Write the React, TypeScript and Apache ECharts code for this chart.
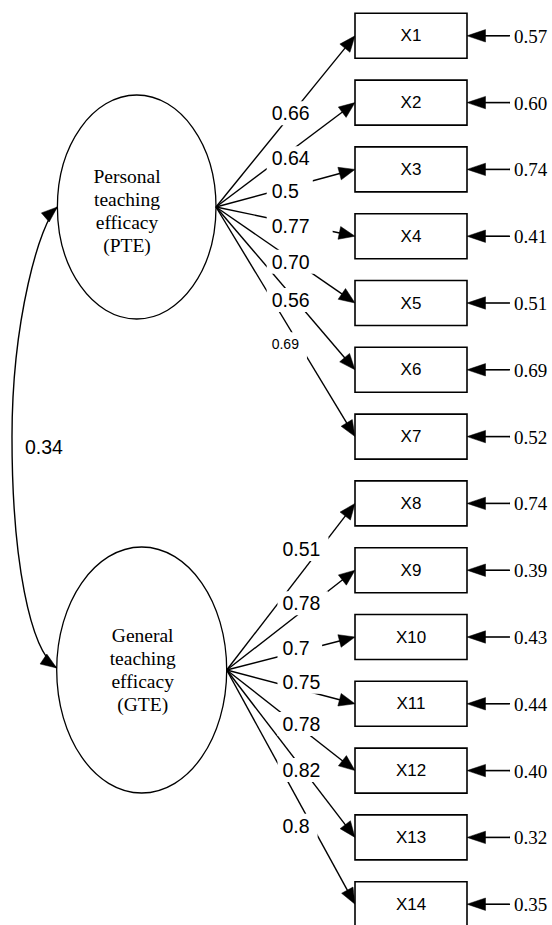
import React, { useEffect, useRef } from "react";
import * as echarts from "echarts";

// ---------------- data ----------------
const factorNames = ["Personal teaching efficacy (PTE)", "General teaching efficacy (GTE)"];
const factorLines = [
  ["Personal", "teaching", "efficacy", "(PTE)"],
  ["General", "teaching", "efficacy", "(GTE)"],
];
const indicators = ["X1", "X2", "X3", "X4", "X5", "X6", "X7", "X8", "X9", "X10", "X11", "X12", "X13", "X14"];
const indicatorFactor = [0, 0, 0, 0, 0, 0, 0, 1, 1, 1, 1, 1, 1, 1];
const loadingLabels = ["0.66", "0.64", "0.5", "0.77", "0.70", "0.56", "0.69", "0.51", "0.78", "0.7", "0.75", "0.78", "0.82", "0.8"];
const errorLabels = ["0.57", "0.60", "0.74", "0.41", "0.51", "0.69", "0.52", "0.74", "0.39", "0.43", "0.44", "0.40", "0.32", "0.35"];
const correlationLabel = "0.34";

// ---------------- layout (units of the hidden pixel axes) ----------------
const W = 552;
const H = 925;
const BOX_LEFT = 355;
const BOX_W = 112;
const BOX_H = 45;
const BOX_TOP0 = 13.3;
const ROW_STEP = 66.8;
const FACTOR_LAYOUT = [
  { cx: 136.7, cy: 207, rx: 79.3, ry: 112, tx: 127, ty: 211 },
  { cx: 141.7, cy: 670, rx: 85, ry: 123, tx: 142.7, ty: 670 },
];
const LABEL_X = [271.7, 282.5];
const LABEL_Y = [113.3, 158.3, 190.7, 225.7, 261.7, 300, 344.3, 549, 603.3, 648.3, 681.7, 724, 770, 825.7];
const LABEL_FONT = [19.5, 19.5, 19.5, 19.5, 19.5, 19.5, 14, 19.5, 19.5, 19.5, 19.5, 19.5, 19.5, 19.5];
const LABEL_PAD_RIGHT = [8, 8, 14, 23, 8, 8, 8, 8, 7.5, 12.5, 8, 8, 8, 8];
const LABEL_PAD_BOTTOM = [12, 12, 12, 12, 12, 12, 22, 12, 12, 12, 12, 12, 12, 12];
const CORR_LABEL_POS = [44, 447];
const ERR_LINE_END = 510;
const ERR_TEXT_X = 514;

const SANS = '"Liberation Sans", Arial, Helvetica, sans-serif';
const SERIF = '"Liberation Serif", "Times New Roman", Times, serif';
const INK = "#000";

const rowCenter = (i: number) => BOX_TOP0 + i * ROW_STEP + BOX_H / 2;

let measureCtx: CanvasRenderingContext2D | null = null;
function textWidth(text: string, size: number, family: string) {
  if (!measureCtx) measureCtx = document.createElement("canvas").getContext("2d");
  if (!measureCtx) return text.length * size * 0.55;
  measureCtx.font = `${size}px ${family}`;
  return measureCtx.measureText(text).width;
}

function arrowHead(tip: number[], ux: number, uy: number, len: number, half: number) {
  const bx = tip[0] - ux * len;
  const by = tip[1] - uy * len;
  return {
    type: "polygon",
    shape: { points: [[tip[0], tip[1]], [bx - uy * half, by + ux * half], [bx + uy * half, by - ux * half]] },
    style: { fill: INK, stroke: INK, lineWidth: 0.5 },
  };
}

function buildOption(): any {
  const common = { type: "custom", coordinateSystem: "cartesian2d", silent: true, clip: false };

  const factorSeries = {
    ...common,
    name: "factors",
    z: 1,
    data: factorNames.map((n, f) => ({ name: n, value: [f, f] })),
    renderItem: (params: any, api: any) => {
      const f = params.dataIndex;
      const L = FACTOR_LAYOUT[f];
      const c = api.coord([L.cx, L.cy]);
      const t = api.coord([L.tx, L.ty]);
      return {
        type: "group",
        children: [
          { type: "ellipse", shape: { cx: c[0], cy: c[1], rx: L.rx, ry: L.ry }, style: { fill: "#fff", stroke: INK, lineWidth: 1.3 } },
          {
            type: "text",
            style: {
              x: t[0], y: t[1], text: factorLines[f].join("\n"), fill: INK,
              fontSize: 19.5, fontFamily: SERIF, lineHeight: 22.8, align: "center", verticalAlign: "middle",
            },
          },
        ],
      };
    },
  };

  const corrSeries = {
    ...common,
    name: "correlation",
    z: 2,
    data: [{ name: correlationLabel, value: [0, 1] }],
    renderItem: (params: any, api: any) => {
      const A = FACTOR_LAYOUT[0];
      const B = FACTOR_LAYOUT[1];
      const p0 = api.coord([A.cx - A.rx, A.cy]);
      const p3 = api.coord([B.cx - B.rx, B.cy - 2]);
      const c1 = api.coord([40, 222]);
      const c2 = api.coord([12, 320]);
      const m = api.coord([12, 437]);
      const c3 = api.coord([12, 560]);
      const c4 = api.coord([30, 650]);
      const u1x = p0[0] - c1[0], u1y = p0[1] - c1[1];
      const l1 = Math.hypot(u1x, u1y);
      const u2x = p3[0] - c4[0], u2y = p3[1] - c4[1];
      const l2 = Math.hypot(u2x, u2y);
      const lp = api.coord(CORR_LABEL_POS);
      return {
        type: "group",
        children: [
          { type: "bezierCurve", shape: { x1: p0[0], y1: p0[1], cpx1: c1[0], cpy1: c1[1], cpx2: c2[0], cpy2: c2[1], x2: m[0], y2: m[1] }, style: { stroke: INK, lineWidth: 1.4, fill: null } },
          { type: "bezierCurve", shape: { x1: m[0], y1: m[1], cpx1: c3[0], cpy1: c3[1], cpx2: c4[0], cpy2: c4[1], x2: p3[0], y2: p3[1] }, style: { stroke: INK, lineWidth: 1.4, fill: null } },
          arrowHead(p0, u1x / l1, u1y / l1, 16, 6),
          arrowHead(p3, u2x / l2, u2y / l2, 16, 6),
          {
            type: "text",
            style: { x: lp[0], y: lp[1], text: correlationLabel, fill: INK, fontSize: 19.5, fontFamily: SANS, align: "center", verticalAlign: "middle" },
          },
        ],
      };
    },
  };

  const loadingSeries = {
    ...common,
    name: "loadings",
    z: 2,
    data: indicators.map((n, i) => ({ name: n, value: [i, indicatorFactor[i]] })),
    renderItem: (params: any, api: any) => {
      const i = params.dataIndex;
      const L = FACTOR_LAYOUT[indicatorFactor[i]];
      const s = api.coord([L.cx + L.rx, L.cy]);
      const tip = api.coord([BOX_LEFT, rowCenter(i)]);
      const dx = tip[0] - s[0], dy = tip[1] - s[1];
      const len = Math.hypot(dx, dy);
      const ux = dx / len, uy = dy / len;
      const endX = tip[0] - ux * 12, endY = tip[1] - uy * 12;
      return {
        type: "group",
        children: [
          { type: "line", shape: { x1: s[0], y1: s[1], x2: endX, y2: endY }, style: { stroke: INK, lineWidth: 1.4 } },
          arrowHead(tip, ux, uy, 16, 6.5),
        ],
      };
    },
  };

  const labelSeries = {
    ...common,
    name: "loadingLabels",
    z: 3,
    data: loadingLabels.map((t, i) => ({ name: t, value: [i, indicatorFactor[i]] })),
    renderItem: (params: any, api: any) => {
      const i = params.dataIndex;
      const f = indicatorFactor[i];
      const fs = LABEL_FONT[i];
      const tw = textWidth(loadingLabels[i], fs, SANS);
      const lx = LABEL_X[f];
      const ly = LABEL_Y[i];
      const a = api.coord([lx - 5, ly - 12]);
      const b = api.coord([lx + tw + LABEL_PAD_RIGHT[i], ly + LABEL_PAD_BOTTOM[i]]);
      const t = api.coord([lx, ly]);
      return {
        type: "group",
        children: [
          { type: "rect", shape: { x: a[0], y: a[1], width: b[0] - a[0], height: b[1] - a[1] }, style: { fill: "#fff" } },
          {
            type: "text",
            style: { x: t[0], y: t[1], text: loadingLabels[i], fill: INK, fontSize: fs, fontFamily: SANS, align: "left", verticalAlign: "middle" },
          },
        ],
      };
    },
  };

  const boxSeries = {
    ...common,
    name: "indicators",
    z: 4,
    data: indicators.map((n, i) => ({ name: n, value: [i, indicatorFactor[i]] })),
    renderItem: (params: any, api: any) => {
      const i = params.dataIndex;
      const a = api.coord([BOX_LEFT, BOX_TOP0 + i * ROW_STEP]);
      const b = api.coord([BOX_LEFT + BOX_W, BOX_TOP0 + i * ROW_STEP + BOX_H]);
      const c = api.coord([BOX_LEFT + BOX_W / 2, rowCenter(i)]);
      return {
        type: "group",
        children: [
          { type: "rect", shape: { x: a[0], y: a[1], width: b[0] - a[0], height: b[1] - a[1] }, style: { fill: "#fff", stroke: INK, lineWidth: 1.6 } },
          {
            type: "text",
            style: { x: c[0], y: c[1], text: indicators[i], fill: INK, fontSize: 17, fontFamily: SANS, align: "center", verticalAlign: "middle" },
          },
        ],
      };
    },
  };

  const errorSeries = {
    ...common,
    name: "errors",
    z: 4,
    data: errorLabels.map((t, i) => ({ name: t, value: [i, indicatorFactor[i]] })),
    renderItem: (params: any, api: any) => {
      const i = params.dataIndex;
      const tip = api.coord([BOX_LEFT + BOX_W, rowCenter(i)]);
      const e = api.coord([ERR_LINE_END, rowCenter(i)]);
      const t = api.coord([ERR_TEXT_X, rowCenter(i)]);
      return {
        type: "group",
        children: [
          { type: "line", shape: { x1: tip[0] + 14, y1: tip[1], x2: e[0], y2: e[1] }, style: { stroke: INK, lineWidth: 1.6 } },
          arrowHead(tip, -1, 0, 18.5, 6.2),
          {
            type: "text",
            style: { x: t[0], y: t[1] + 0.5, text: errorLabels[i], fill: INK, fontSize: 19, fontFamily: SERIF, align: "left", verticalAlign: "middle" },
          },
        ],
      };
    },
  };

  return {
    animation: false,
    backgroundColor: "#fff",
    grid: { left: 0, right: 0, top: 0, bottom: 0 },
    xAxis: { type: "value", min: 0, max: W, show: false },
    yAxis: { type: "value", min: 0, max: H, inverse: true, show: false },
    tooltip: { show: false },
    series: [factorSeries, loadingSeries, corrSeries, labelSeries, boxSeries, errorSeries],
  };
}

export default function App() {
  const ref = useRef<HTMLDivElement>(null);
  useEffect(() => {
    const prevMargin = document.body.style.margin;
    document.body.style.margin = "0";
    if (!ref.current) return;
    const chart = echarts.init(ref.current, undefined, { renderer: "svg" });
    chart.setOption(buildOption());
    return () => {
      chart.dispose();
      document.body.style.margin = prevMargin;
    };
  }, []);
  return <div ref={ref} style={{ width: W, height: H, background: "#fff", overflow: "hidden" }} />;
}
